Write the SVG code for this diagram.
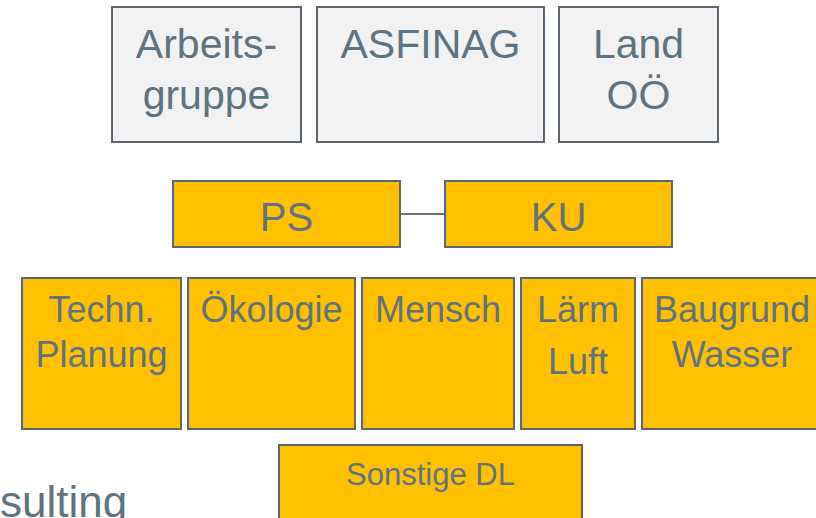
<svg xmlns="http://www.w3.org/2000/svg" width="816" height="518" viewBox="0 0 816 518">
<style>
.g{fill:#f2f2f2;stroke:#5b6670;stroke-width:2}
.y{fill:#ffc000;stroke:#5b6670;stroke-width:2}
text{font-family:"Liberation Sans",Arial,sans-serif;fill:#5e7380;text-anchor:middle}
.t1{font-size:41px}
.t2{font-size:40px}
.t3{font-size:36px}
.t4{font-size:31px}
</style>
<rect width="816" height="518" fill="#ffffff"/>
<g id="connectors">
<line x1="400" y1="214" x2="445" y2="214" stroke="#404040" stroke-width="1.5"/>
</g>
<g id="arbeitsgruppe"><rect class="g" x="112" y="7" width="189" height="135"/><text class="t1" x="206.5" y="58">Arbeits-</text><text class="t1" x="206.5" y="109">gruppe</text></g>
<g id="asfinag"><rect class="g" x="317" y="7" width="227" height="135"/><text class="t1" x="430.5" y="58">ASFINAG</text></g>
<g id="land"><rect class="g" x="559" y="7" width="159" height="135"/><text class="t1" x="638.5" y="58">Land</text><text class="t1" x="638.5" y="109">OÖ</text></g>
<g id="ps"><rect class="y" x="173" y="181" width="227" height="66"/><text class="t2" x="286.5" y="231">PS</text></g>
<g id="ku"><rect class="y" x="445" y="181" width="227" height="66"/><text class="t2" x="558.5" y="231">KU</text></g>
<g id="techn"><rect class="y" x="22" y="278" width="159" height="151"/><text class="t3" x="101.5" y="322">Techn.</text><text class="t3" x="101.5" y="367">Planung</text></g>
<g id="oekologie"><rect class="y" x="188" y="278" width="167" height="151"/><text class="t3" x="271.5" y="322">Ökologie</text></g>
<g id="mensch"><rect class="y" x="362" y="278" width="152" height="151"/><text class="t3" x="438" y="322">Mensch</text></g>
<g id="laerm"><rect class="y" x="521" y="278" width="114" height="151"/><text class="t3" x="578" y="322">Lärm</text><text class="t3" x="578" y="374">Luft</text></g>
<g id="baugrund"><rect class="y" x="642" y="278" width="182" height="151"/><text class="t3" x="732" y="322">Baugrund</text><text class="t3" x="732" y="367">Wasser</text></g>
<g id="sonstige"><rect class="y" x="279" y="445" width="303" height="80"/><text class="t4" x="430.5" y="485">Sonstige DL</text></g>
<text x="0" y="517" style="font-size:44px;text-anchor:start">sulting</text>
</svg>
